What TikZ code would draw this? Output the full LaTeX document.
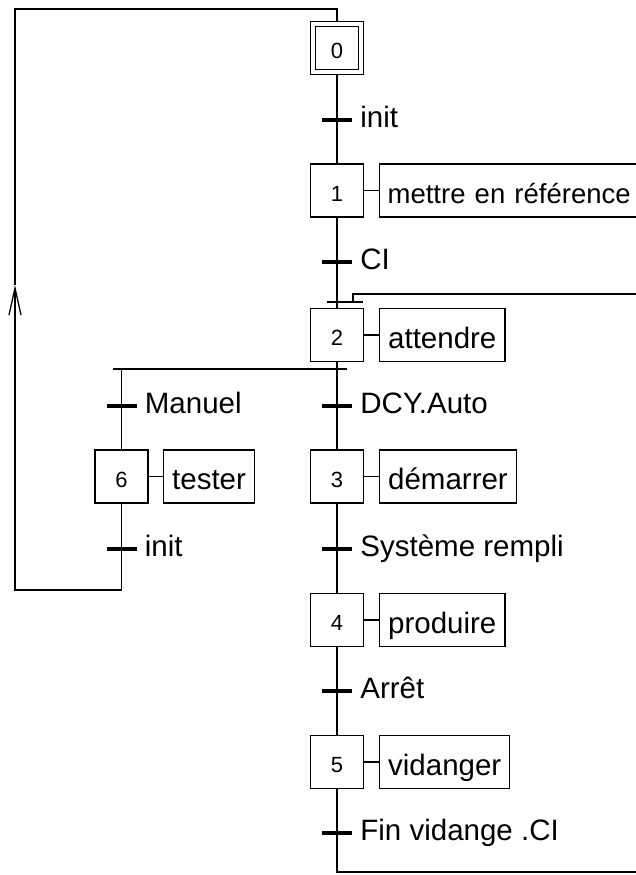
\documentclass[tikz,border=0pt]{standalone}
\usepackage{fontspec}
\setmainfont{Liberation Sans}
\usetikzlibrary{arrows.meta}
\begin{document}
\begin{tikzpicture}[x=1pt,y=-1pt,
  lien/.style={line width=1.3pt},
  etape/.style={draw, line width=1.3pt, minimum width=53pt, minimum height=53pt, inner sep=0pt,
    font=\fontsize{22}{24}\selectfont, text height=21pt, text depth=0pt},
  cadre/.style={draw, line width=1.3pt, minimum width=43pt, minimum height=43pt, inner sep=0pt},
  acte/.style={draw, line width=1.3pt, minimum height=53pt, inner xsep=8.5pt, inner ysep=0pt, anchor=west,
    font=\fontsize{29.5}{33}\selectfont, text height=26pt, text depth=0pt},
  barre/.style={fill=black, minimum width=30pt, minimum height=3.5pt, inner sep=0pt},
  recep/.style={anchor=west, inner sep=0pt, font=\fontsize{29.5}{33}\selectfont, text height=21pt, text depth=7pt}]
\useasboundingbox (0,0) rectangle (636,875);
\clip (0,0) rectangle (636,875);

% steps
\node[etape] (s0) at (337,48) {0};
\node[cadre] (s0i) at (337,48) {};
\node[etape] (s1) at (337,190.5) {1};
\node[etape] (s2) at (337,335) {2};
\node[etape] (s3) at (337,476.5) {3};
\node[etape] (s4) at (337,620) {4};
\node[etape] (s5) at (337,762) {5};
\node[etape] (s6) at (121.5,476.5) {6};

% actions
\node[acte, font=\fontsize{27.5}{31}\selectfont, inner xsep=8pt, text width=256pt, align=left] (a1) at (379,190.5) {mettre en référence};
\node[acte] (a2) at (379,335) {attendre};
\node[acte] (a3) at (379,476.5) {démarrer};
\node[acte] (a4) at (379,620) {produire};
\node[acte] (a5) at (379,762) {vidanger};
\node[acte] (a6) at (163,476.5) {tester};
\foreach \i in {1,...,6} {\draw[lien] (s\i.east) -- (a\i.west);}

% coordinates
\coordinate (cvg) at (337,302);
\coordinate (cvl) at (327,302);
\coordinate (cvr) at (363,302);
\coordinate (ret) at (353,302);
\coordinate (retE) at (640,294);
\coordinate (dvl) at (113,369);
\coordinate (dvr) at (347,369);
\coordinate (dv6) at (121.5,369);
\coordinate (bas) at (640,872);
\coordinate (coinB) at (15,590);
\coordinate (fl) at (15,285);
\coordinate (coinH) at (337,9);

% links
\draw[lien] (s0.south) -- (s1.north);
\draw[lien] (s1.south) -- (cvg);
\draw[lien] (cvl) -- (cvr);
\draw[lien] (ret) |- (retE);
\draw[lien] (cvg) -- (s2.north);
\draw[lien] (s2.south) -- (s3.north);
\draw[lien] (dvl) -- (dvr);
\draw[lien] (dv6) -- (s6.north);
\draw[lien] (s3.south) -- (s4.north);
\draw[lien] (s4.south) -- (s5.north);
\draw[lien] (s5.south) |- (bas);
\draw[lien, -{Straight Barb[length=27pt,width=12pt]}] (s6.south) |- (coinB) -- (fl);
\draw[lien] (fl) |- (coinH) -- (s0.north);

% transitions
\node[barre] (t1) at (337,120) {};
\node[barre] (t2) at (337,262) {};
\node[barre] (t3) at (337,406) {};
\node[barre] (t6a) at (121.5,406) {};
\node[barre] (t4) at (337,549) {};
\node[barre] (t6b) at (121.5,549) {};
\node[barre] (t5) at (337,691) {};
\node[barre] (t7) at (337,833) {};

\node[recep] (r1) at ([xshift=8pt]t1.east) {init};
\node[recep] (r2) at ([xshift=8pt]t2.east) {CI};
\node[recep] (r3) at ([xshift=8pt]t3.east) {DCY.Auto};
\node[recep] (r6a) at ([xshift=8pt]t6a.east) {Manuel};
\node[recep] (r4) at ([xshift=8pt]t4.east) {Système rempli};
\node[recep] (r6b) at ([xshift=8pt]t6b.east) {init};
\node[recep] (r5) at ([xshift=8pt]t5.east) {Arrêt};
\node[recep] (r7) at ([xshift=8pt]t7.east) {Fin vidange .CI};
\end{tikzpicture}
\end{document}
